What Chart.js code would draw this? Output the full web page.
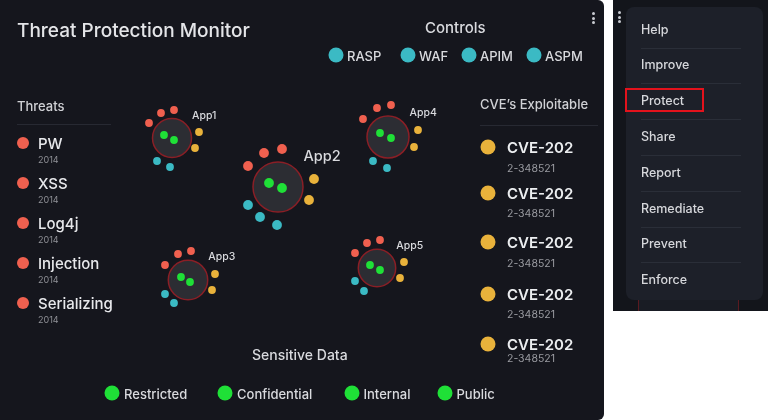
<!DOCTYPE html>
<html>
<head>
<meta charset="utf-8">
<script src="https://cdn.jsdelivr.net/npm/chart.js@4"></script>
<style>
  body { margin: 0; background: #fff; font-family: "Inter", "Noto Sans", sans-serif; }
  #main { position: absolute; left: 0; top: 0; width: 604px; height: 420px; background: #15161d; border-radius: 0 6px 6px 0; overflow: hidden; }
  #chartBox { position: absolute; left: 0; top: 0; width: 604px; height: 420px; }
  .t { position: absolute; white-space: nowrap; transform: translateY(-50%); line-height: 1; }
  .dot { position: absolute; border-radius: 50%; transform: translate(-50%, -50%); }
  .kebab { position: absolute; width: 3px; }
  .kebab i { display: block; width: 3px; height: 3px; border-radius: 50%; background: #c9cbd1; margin-bottom: 1.5px; }
  .rule { position: absolute; height: 1px; background: #272932; }
  #side { position: absolute; left: 613px; top: 0; width: 155px; height: 311px; background: #13151b; }
  #card { position: absolute; left: 13px; top: 7px; width: 137px; height: 293px; background: #1d2029; border-radius: 8px; }
  #under { position: absolute; left: 25px; top: 300px; width: 99px; height: 11px; background: #191c24; border-left: 1px solid #5a1a20; border-right: 1px solid #5a1a20; }
  #redbox { position: absolute; left: 12px; top: 88px; width: 79px; height: 24px; border: 2px solid #e3121c; box-sizing: border-box; }
</style>
</head>
<body>
<div id="main">
  <div id="chartBox"><canvas id="threatChart"></canvas></div>
</div>
<div id="side"><div id="under"></div><div id="card"></div></div>

<script>
// apps (bubble centres and sizes)
const apps = ['App1', 'App2', 'App3', 'App4', 'App5'];
const appX = [172, 278, 188, 388, 377];
const appY = [138, 187, 280, 137, 268];
const appSize = [19.5, 25, 19.7, 21, 18.7];

// satellite points per app
const sensitivePts = [
  [[164, 135], [174, 140]],
  [[269, 183], [282, 188]],
  [[181, 277], [190, 282]],
  [[380, 133], [391, 138]],
  [[370, 265], [380, 270]]
];
const threatPts = [
  [[149, 123], [161, 113], [174, 110]],
  [[248, 166], [264, 153], [282, 149]],
  [[165, 265], [178, 254], [191, 251]],
  [[363, 119], [377, 108], [391, 105]],
  [[355, 253], [367, 243], [380, 240]]
];
const cvePts = [
  [[199, 132], [195, 148]],
  [[314, 179], [309, 200]],
  [[215, 274], [212, 290]],
  [[418, 130], [414, 147]],
  [[404, 262], [400, 278]]
];
const controlPts = [
  [[157, 161], [170, 167]],
  [[248, 205], [260, 217], [277, 225]],
  [[165, 294], [174, 303]],
  [[373, 161], [387, 168]],
  [[355, 281], [364, 291]]
];

// legends and side lists
const controls = ['RASP', 'WAF', 'APIM', 'ASPM'];
const threats = ['PW', 'XSS', 'Log4j', 'Injection', 'Serializing'];
const threatYears = ['2014', '2014', '2014', '2014', '2014'];
const cves = ['CVE-202', 'CVE-202', 'CVE-202', 'CVE-202', 'CVE-202'];
const cveIds = ['2-348521', '2-348521', '2-348521', '2-348521', '2-348521'];
const sensitive = ['Restricted', 'Confidential', 'Internal', 'Public'];
const menuItems = ['Help', 'Improve', 'Protect', 'Share', 'Report', 'Remediate', 'Prevent', 'Enforce'];

const RED = '#f0604f', YELLOW = '#e9b23b', TEAL = '#3bbac4', GREEN = '#1fe037';

function flatten(groups) {
  const out = [];
  groups.forEach((pts, i) => pts.forEach(p => out.push({ x: p[0], y: p[1], app: i })));
  return out;
}
// App2 is the big one, its satellites are drawn larger
const satRadius = ctx => (ctx.raw && appSize[ctx.raw.app] > 24 ? 4.9 : 3.9);

const appLabels = {
  id: 'appLabels',
  afterDatasetsDraw(chart) {
    const { ctx, scales } = chart;
    ctx.save();
    ctx.fillStyle = '#d9dade';
    ctx.textBaseline = 'middle';
    apps.forEach((name, i) => {
      const big = appSize[i] > 24;
      ctx.font = (big ? '500 14.5px' : '500 10.5px') + ' Inter, sans-serif';
      const px = scales.x.getPixelForValue(appX[i]) + appSize[i] + 0.5;
      const py = scales.y.getPixelForValue(appY[i]) - appSize[i] - (big ? 5 : 3);
      ctx.fillText(name, px, py);
    });
    ctx.restore();
  }
};

const c = document.getElementById('threatChart');
c.width = 604; c.height = 420;
new Chart(c.getContext('2d'), {
  type: 'bubble',
  data: {
    datasets: [
      {
        label: 'Sensitive Data',
        type: 'scatter',
        data: flatten(sensitivePts),
        backgroundColor: GREEN,
        borderWidth: 0,
        pointRadius: satRadius,
        order: 0
      },
      {
        label: 'Apps',
        data: apps.map((a, i) => ({ x: appX[i], y: appY[i], r: appSize[i] })),
        backgroundColor: '#2c2d33',
        borderColor: '#8a1f26',
        borderWidth: 1.5,
        order: 1
      },
      {
        label: 'Threats',
        type: 'scatter',
        data: flatten(threatPts),
        backgroundColor: RED,
        borderWidth: 0,
        pointRadius: satRadius
      },
      {
        label: 'CVEs',
        type: 'scatter',
        data: flatten(cvePts),
        backgroundColor: YELLOW,
        borderWidth: 0,
        pointRadius: satRadius
      },
      {
        label: 'Controls',
        type: 'scatter',
        data: flatten(controlPts),
        backgroundColor: TEAL,
        borderWidth: 0,
        pointRadius: satRadius
      }
    ]
  },
  options: {
    responsive: false,
    animation: false,
    layout: { padding: 0, autoPadding: false },
    plugins: { legend: { display: false }, tooltip: { enabled: false } },
    scales: {
      x: { type: 'linear', min: 0, max: 604, display: false },
      y: { type: 'linear', min: 0, max: 420, reverse: true, display: false }
    }
  },
  plugins: [appLabels]
});

// ---- html text around the chart ----
const main = document.getElementById('main');
function text(parent, str, x, y, size, color, weight) {
  const d = document.createElement('div');
  d.className = 't';
  d.textContent = str;
  d.style.left = x + 'px';
  d.style.top = y + 'px';
  d.style.fontSize = size + 'px';
  d.style.color = color;
  if (weight) d.style.fontWeight = weight;
  parent.appendChild(d);
  return d;
}
function dot(parent, x, y, r, color) {
  const d = document.createElement('div');
  d.className = 'dot';
  d.style.left = x + 'px';
  d.style.top = y + 'px';
  d.style.width = d.style.height = (2 * r) + 'px';
  d.style.background = color;
  parent.appendChild(d);
}
function rule(parent, x, y, w, color) {
  const d = document.createElement('div');
  d.className = 'rule';
  d.style.left = x + 'px';
  d.style.top = y + 'px';
  d.style.width = w + 'px';
  if (color) d.style.background = color;
  parent.appendChild(d);
}
function kebab(parent, x, y) {
  const k = document.createElement('div');
  k.className = 'kebab';
  k.style.left = x + 'px';
  k.style.top = y + 'px';
  k.innerHTML = '<i></i><i></i><i></i>';
  parent.appendChild(k);
}

text(main, 'Threat Protection Monitor', 17, 30, 19, '#e4e5e8', 500);
kebab(main, 592, 12);

// Controls legend
text(main, 'Controls', 425, 27, 15, '#d9dade', 500);
const ctrlDotX = [336, 408, 469, 534];
controls.forEach((n, i) => {
  dot(main, ctrlDotX[i], 55, 7.5, TEAL);
  text(main, n, ctrlDotX[i] + 11, 56, 13, '#d9dade', 500);
});

// Threats list
text(main, 'Threats', 17, 106, 13, '#d0d1d5', 500);
rule(main, 17, 124, 94);
threats.forEach((n, i) => {
  const y = 142.5 + i * 40;
  dot(main, 22.5, y, 6, RED);
  text(main, n, 38, y, 15, '#e8e9ec', 500);
  text(main, threatYears[i], 38, y + 16.5, 9, '#8f9096');
});

// CVE list
text(main, 'CVE\u2019s Exploitable', 480, 104, 13, '#d0d1d5', 500);
rule(main, 480, 125, 118);
const cveY = [146.5, 193, 242, 294, 344];
const cveSubGap = [22, 20.5, 22, 21, 15];
cves.forEach((n, i) => {
  dot(main, 488, cveY[i], 7.5, YELLOW);
  text(main, n, 507, cveY[i], 15, '#eceef0', 600);
  text(main, cveIds[i], 507, cveY[i] + cveSubGap[i], 10.5, '#9a9ba1');
});

// Sensitive data legend
text(main, 'Sensitive Data', 252, 355, 14, '#d9dade', 500);
const sensDotX = [112, 225, 351.5, 444.5];
sensitive.forEach((n, i) => {
  dot(main, sensDotX[i], 393, 7.5, GREEN);
  text(main, n, sensDotX[i] + 12, 394, 13, '#d9dade', 500);
});

// right-hand menu
const side = document.getElementById('side');
kebab(side, 5, 11);
const card = document.getElementById('card');
menuItems.forEach((n, i) => {
  const y = 22.5 + i * 35.8;
  text(card, n, 15, y, 12.5, '#d6d7db', 500);
  if (i < menuItems.length - 1) rule(card, 15, y + 18, 100, '#2a2e38');
});
const box = document.createElement('div');
box.id = 'redbox';
side.appendChild(box);
</script>
</body>
</html>
